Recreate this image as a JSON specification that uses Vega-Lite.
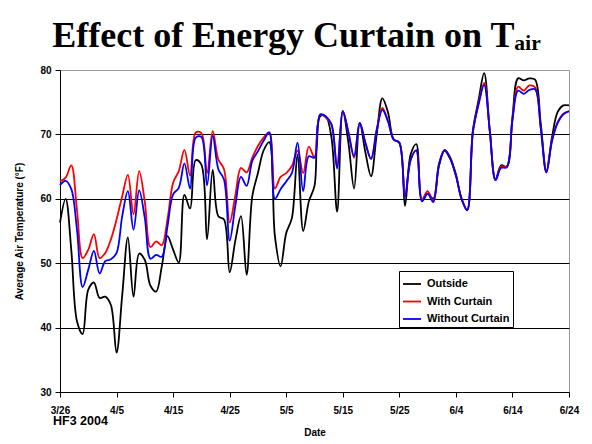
{
"$schema": "https://vega.github.io/schema/vega-lite/v6.json",
"padding": {"left": 13, "top": 17, "right": 5, "bottom": 0},
"background": "white",
"title": {"text": "Effect of Energy Curtain on Tₐᵢᵣ", "font": "Liberation Serif", "fontSize": 36, "fontWeight": "bold", "color": "black", "anchor": "middle", "offset": 10},
"vconcat": [{
"width": 509, "height": 322,
"title": {"text": "HF3 2004", "orient": "bottom", "anchor": "start", "frame": "group", "font": "Liberation Sans", "fontSize": 12.5, "fontWeight": "bold", "color": "black", "offset": -22, "dx": -7},
"data": {"values": [
{"date":"2004-03-26","series":"Outside","temp":56.3},
{"date":"2004-03-27","series":"Outside","temp":60.0},
{"date":"2004-03-28","series":"Outside","temp":52.0},
{"date":"2004-03-29","series":"Outside","temp":41.0},
{"date":"2004-03-30","series":"Outside","temp":39.0},
{"date":"2004-03-31","series":"Outside","temp":45.9},
{"date":"2004-04-01","series":"Outside","temp":47.0},
{"date":"2004-04-02","series":"Outside","temp":44.6},
{"date":"2004-04-03","series":"Outside","temp":44.8},
{"date":"2004-04-04","series":"Outside","temp":43.5},
{"date":"2004-04-05","series":"Outside","temp":36.1},
{"date":"2004-04-06","series":"Outside","temp":45.0},
{"date":"2004-04-07","series":"Outside","temp":54.0},
{"date":"2004-04-08","series":"Outside","temp":44.8},
{"date":"2004-04-09","series":"Outside","temp":51.5},
{"date":"2004-04-10","series":"Outside","temp":50.5},
{"date":"2004-04-11","series":"Outside","temp":46.5},
{"date":"2004-04-12","series":"Outside","temp":45.6},
{"date":"2004-04-13","series":"Outside","temp":49.5},
{"date":"2004-04-14","series":"Outside","temp":54.2},
{"date":"2004-04-15","series":"Outside","temp":52.1},
{"date":"2004-04-16","series":"Outside","temp":50.1},
{"date":"2004-04-17","series":"Outside","temp":60.6},
{"date":"2004-04-18","series":"Outside","temp":58.5},
{"date":"2004-04-19","series":"Outside","temp":66.0},
{"date":"2004-04-20","series":"Outside","temp":65.3},
{"date":"2004-04-21","series":"Outside","temp":53.7},
{"date":"2004-04-22","series":"Outside","temp":64.5},
{"date":"2004-04-23","series":"Outside","temp":57.3},
{"date":"2004-04-24","series":"Outside","temp":56.8},
{"date":"2004-04-25","series":"Outside","temp":48.6},
{"date":"2004-04-26","series":"Outside","temp":53.5},
{"date":"2004-04-27","series":"Outside","temp":57.3},
{"date":"2004-04-28","series":"Outside","temp":48.2},
{"date":"2004-04-29","series":"Outside","temp":60.4},
{"date":"2004-04-30","series":"Outside","temp":64.0},
{"date":"2004-05-01","series":"Outside","temp":67.5},
{"date":"2004-05-02","series":"Outside","temp":68.8},
{"date":"2004-05-03","series":"Outside","temp":54.2},
{"date":"2004-05-04","series":"Outside","temp":49.5},
{"date":"2004-05-05","series":"Outside","temp":54.7},
{"date":"2004-05-06","series":"Outside","temp":57.0},
{"date":"2004-05-07","series":"Outside","temp":66.9},
{"date":"2004-05-08","series":"Outside","temp":55.0},
{"date":"2004-05-09","series":"Outside","temp":59.6},
{"date":"2004-05-10","series":"Outside","temp":62.0},
{"date":"2004-05-11","series":"Outside","temp":72.8},
{"date":"2004-05-12","series":"Outside","temp":72.8},
{"date":"2004-05-13","series":"Outside","temp":69.5},
{"date":"2004-05-14","series":"Outside","temp":58.0},
{"date":"2004-05-15","series":"Outside","temp":73.6},
{"date":"2004-05-16","series":"Outside","temp":68.7},
{"date":"2004-05-17","series":"Outside","temp":61.6},
{"date":"2004-05-18","series":"Outside","temp":71.8},
{"date":"2004-05-19","series":"Outside","temp":67.2},
{"date":"2004-05-20","series":"Outside","temp":63.5},
{"date":"2004-05-21","series":"Outside","temp":70.0},
{"date":"2004-05-22","series":"Outside","temp":75.6},
{"date":"2004-05-23","series":"Outside","temp":73.4},
{"date":"2004-05-24","series":"Outside","temp":69.2},
{"date":"2004-05-25","series":"Outside","temp":68.7},
{"date":"2004-05-26","series":"Outside","temp":58.9},
{"date":"2004-05-27","series":"Outside","temp":66.9},
{"date":"2004-05-28","series":"Outside","temp":68.5},
{"date":"2004-05-29","series":"Outside","temp":59.7},
{"date":"2004-05-30","series":"Outside","temp":60.8},
{"date":"2004-05-31","series":"Outside","temp":60.0},
{"date":"2004-06-01","series":"Outside","temp":65.4},
{"date":"2004-06-02","series":"Outside","temp":67.6},
{"date":"2004-06-03","series":"Outside","temp":66.4},
{"date":"2004-06-04","series":"Outside","temp":63.8},
{"date":"2004-06-05","series":"Outside","temp":60.0},
{"date":"2004-06-06","series":"Outside","temp":58.3},
{"date":"2004-06-07","series":"Outside","temp":70.6},
{"date":"2004-06-08","series":"Outside","temp":75.3},
{"date":"2004-06-09","series":"Outside","temp":79.5},
{"date":"2004-06-10","series":"Outside","temp":70.5},
{"date":"2004-06-11","series":"Outside","temp":63.0},
{"date":"2004-06-12","series":"Outside","temp":65.2},
{"date":"2004-06-13","series":"Outside","temp":65.0},
{"date":"2004-06-14","series":"Outside","temp":72.7},
{"date":"2004-06-15","series":"Outside","temp":78.7},
{"date":"2004-06-16","series":"Outside","temp":78.4},
{"date":"2004-06-17","series":"Outside","temp":78.7},
{"date":"2004-06-18","series":"Outside","temp":78.5},
{"date":"2004-06-19","series":"Outside","temp":71.7},
{"date":"2004-06-20","series":"Outside","temp":64.3},
{"date":"2004-06-21","series":"Outside","temp":69.6},
{"date":"2004-06-22","series":"Outside","temp":73.5},
{"date":"2004-06-23","series":"Outside","temp":74.5},
{"date":"2004-06-24","series":"Outside","temp":74.5},
{"date":"2004-03-26","series":"With Curtain","temp":62.7},
{"date":"2004-03-27","series":"With Curtain","temp":63.3},
{"date":"2004-03-28","series":"With Curtain","temp":65.2},
{"date":"2004-03-29","series":"With Curtain","temp":58.3},
{"date":"2004-03-30","series":"With Curtain","temp":50.8},
{"date":"2004-03-31","series":"With Curtain","temp":52.1},
{"date":"2004-04-01","series":"With Curtain","temp":54.5},
{"date":"2004-04-02","series":"With Curtain","temp":50.8},
{"date":"2004-04-03","series":"With Curtain","temp":51.6},
{"date":"2004-04-04","series":"With Curtain","temp":53.7},
{"date":"2004-04-05","series":"With Curtain","temp":56.8},
{"date":"2004-04-06","series":"With Curtain","temp":60.4},
{"date":"2004-04-07","series":"With Curtain","temp":63.7},
{"date":"2004-04-08","series":"With Curtain","temp":57.6},
{"date":"2004-04-09","series":"With Curtain","temp":64.3},
{"date":"2004-04-10","series":"With Curtain","temp":59.5},
{"date":"2004-04-11","series":"With Curtain","temp":52.5},
{"date":"2004-04-12","series":"With Curtain","temp":53.4},
{"date":"2004-04-13","series":"With Curtain","temp":52.8},
{"date":"2004-04-14","series":"With Curtain","temp":56.8},
{"date":"2004-04-15","series":"With Curtain","temp":62.5},
{"date":"2004-04-16","series":"With Curtain","temp":64.3},
{"date":"2004-04-17","series":"With Curtain","temp":67.6},
{"date":"2004-04-18","series":"With Curtain","temp":63.6},
{"date":"2004-04-19","series":"With Curtain","temp":70.3},
{"date":"2004-04-20","series":"With Curtain","temp":70.2},
{"date":"2004-04-21","series":"With Curtain","temp":64.0},
{"date":"2004-04-22","series":"With Curtain","temp":70.5},
{"date":"2004-04-23","series":"With Curtain","temp":66.1},
{"date":"2004-04-24","series":"With Curtain","temp":64.6},
{"date":"2004-04-25","series":"With Curtain","temp":56.3},
{"date":"2004-04-26","series":"With Curtain","temp":60.5},
{"date":"2004-04-27","series":"With Curtain","temp":64.8},
{"date":"2004-04-28","series":"With Curtain","temp":64.1},
{"date":"2004-04-29","series":"With Curtain","temp":66.4},
{"date":"2004-04-30","series":"With Curtain","temp":68.2},
{"date":"2004-05-01","series":"With Curtain","temp":69.5},
{"date":"2004-05-02","series":"With Curtain","temp":70.3},
{"date":"2004-05-03","series":"With Curtain","temp":61.6},
{"date":"2004-05-04","series":"With Curtain","temp":63.4},
{"date":"2004-05-05","series":"With Curtain","temp":64.0},
{"date":"2004-05-06","series":"With Curtain","temp":65.1},
{"date":"2004-05-07","series":"With Curtain","temp":67.5},
{"date":"2004-05-08","series":"With Curtain","temp":64.0},
{"date":"2004-05-09","series":"With Curtain","temp":68.1},
{"date":"2004-05-10","series":"With Curtain","temp":66.4},
{"date":"2004-05-11","series":"With Curtain","temp":73.1},
{"date":"2004-05-12","series":"With Curtain","temp":72.6},
{"date":"2004-05-13","series":"With Curtain","temp":71.5},
{"date":"2004-05-14","series":"With Curtain","temp":65.0},
{"date":"2004-05-15","series":"With Curtain","temp":73.6},
{"date":"2004-05-16","series":"With Curtain","temp":70.3},
{"date":"2004-05-17","series":"With Curtain","temp":66.4},
{"date":"2004-05-18","series":"With Curtain","temp":71.8},
{"date":"2004-05-19","series":"With Curtain","temp":68.7},
{"date":"2004-05-20","series":"With Curtain","temp":66.2},
{"date":"2004-05-21","series":"With Curtain","temp":70.8},
{"date":"2004-05-22","series":"With Curtain","temp":74.1},
{"date":"2004-05-23","series":"With Curtain","temp":72.1},
{"date":"2004-05-24","series":"With Curtain","temp":69.2},
{"date":"2004-05-25","series":"With Curtain","temp":68.7},
{"date":"2004-05-26","series":"With Curtain","temp":60.4},
{"date":"2004-05-27","series":"With Curtain","temp":66.1},
{"date":"2004-05-28","series":"With Curtain","temp":67.5},
{"date":"2004-05-29","series":"With Curtain","temp":59.9},
{"date":"2004-05-30","series":"With Curtain","temp":61.2},
{"date":"2004-05-31","series":"With Curtain","temp":59.7},
{"date":"2004-06-01","series":"With Curtain","temp":65.1},
{"date":"2004-06-02","series":"With Curtain","temp":67.5},
{"date":"2004-06-03","series":"With Curtain","temp":66.2},
{"date":"2004-06-04","series":"With Curtain","temp":63.6},
{"date":"2004-06-05","series":"With Curtain","temp":60.0},
{"date":"2004-06-06","series":"With Curtain","temp":58.3},
{"date":"2004-06-07","series":"With Curtain","temp":70.3},
{"date":"2004-06-08","series":"With Curtain","temp":74.8},
{"date":"2004-06-09","series":"With Curtain","temp":78.0},
{"date":"2004-06-10","series":"With Curtain","temp":70.5},
{"date":"2004-06-11","series":"With Curtain","temp":62.9},
{"date":"2004-06-12","series":"With Curtain","temp":65.0},
{"date":"2004-06-13","series":"With Curtain","temp":65.0},
{"date":"2004-06-14","series":"With Curtain","temp":72.4},
{"date":"2004-06-15","series":"With Curtain","temp":77.4},
{"date":"2004-06-16","series":"With Curtain","temp":76.8},
{"date":"2004-06-17","series":"With Curtain","temp":77.6},
{"date":"2004-06-18","series":"With Curtain","temp":77.3},
{"date":"2004-06-19","series":"With Curtain","temp":71.1},
{"date":"2004-06-20","series":"With Curtain","temp":64.1},
{"date":"2004-06-21","series":"With Curtain","temp":69.1},
{"date":"2004-06-22","series":"With Curtain","temp":71.9},
{"date":"2004-06-23","series":"With Curtain","temp":73.2},
{"date":"2004-06-24","series":"With Curtain","temp":73.6},
{"date":"2004-03-26","series":"Without Curtain","temp":62.1},
{"date":"2004-03-27","series":"Without Curtain","temp":62.8},
{"date":"2004-03-28","series":"Without Curtain","temp":61.5},
{"date":"2004-03-29","series":"Without Curtain","temp":55.2},
{"date":"2004-03-30","series":"Without Curtain","temp":46.3},
{"date":"2004-03-31","series":"Without Curtain","temp":49.0},
{"date":"2004-04-01","series":"Without Curtain","temp":51.9},
{"date":"2004-04-02","series":"Without Curtain","temp":48.4},
{"date":"2004-04-03","series":"Without Curtain","temp":50.3},
{"date":"2004-04-04","series":"Without Curtain","temp":50.6},
{"date":"2004-04-05","series":"Without Curtain","temp":51.6},
{"date":"2004-04-06","series":"Without Curtain","temp":57.3},
{"date":"2004-04-07","series":"Without Curtain","temp":61.2},
{"date":"2004-04-08","series":"Without Curtain","temp":55.2},
{"date":"2004-04-09","series":"Without Curtain","temp":61.3},
{"date":"2004-04-10","series":"Without Curtain","temp":57.0},
{"date":"2004-04-11","series":"Without Curtain","temp":50.7},
{"date":"2004-04-12","series":"Without Curtain","temp":51.3},
{"date":"2004-04-13","series":"Without Curtain","temp":51.0},
{"date":"2004-04-14","series":"Without Curtain","temp":55.7},
{"date":"2004-04-15","series":"Without Curtain","temp":60.7},
{"date":"2004-04-16","series":"Without Curtain","temp":61.7},
{"date":"2004-04-17","series":"Without Curtain","temp":65.5},
{"date":"2004-04-18","series":"Without Curtain","temp":61.6},
{"date":"2004-04-19","series":"Without Curtain","temp":69.5},
{"date":"2004-04-20","series":"Without Curtain","temp":69.6},
{"date":"2004-04-21","series":"Without Curtain","temp":62.1},
{"date":"2004-04-22","series":"Without Curtain","temp":69.8},
{"date":"2004-04-23","series":"Without Curtain","temp":64.6},
{"date":"2004-04-24","series":"Without Curtain","temp":63.0},
{"date":"2004-04-25","series":"Without Curtain","temp":53.5},
{"date":"2004-04-26","series":"Without Curtain","temp":58.9},
{"date":"2004-04-27","series":"Without Curtain","temp":63.4},
{"date":"2004-04-28","series":"Without Curtain","temp":62.0},
{"date":"2004-04-29","series":"Without Curtain","temp":65.9},
{"date":"2004-04-30","series":"Without Curtain","temp":67.4},
{"date":"2004-05-01","series":"Without Curtain","temp":69.0},
{"date":"2004-05-02","series":"Without Curtain","temp":70.3},
{"date":"2004-05-03","series":"Without Curtain","temp":60.0},
{"date":"2004-05-04","series":"Without Curtain","temp":61.5},
{"date":"2004-05-05","series":"Without Curtain","temp":62.7},
{"date":"2004-05-06","series":"Without Curtain","temp":64.0},
{"date":"2004-05-07","series":"Without Curtain","temp":68.7},
{"date":"2004-05-08","series":"Without Curtain","temp":61.2},
{"date":"2004-05-09","series":"Without Curtain","temp":66.6},
{"date":"2004-05-10","series":"Without Curtain","temp":66.4},
{"date":"2004-05-11","series":"Without Curtain","temp":73.1},
{"date":"2004-05-12","series":"Without Curtain","temp":72.8},
{"date":"2004-05-13","series":"Without Curtain","temp":71.6},
{"date":"2004-05-14","series":"Without Curtain","temp":64.7},
{"date":"2004-05-15","series":"Without Curtain","temp":73.6},
{"date":"2004-05-16","series":"Without Curtain","temp":70.3},
{"date":"2004-05-17","series":"Without Curtain","temp":66.6},
{"date":"2004-05-18","series":"Without Curtain","temp":71.8},
{"date":"2004-05-19","series":"Without Curtain","temp":68.7},
{"date":"2004-05-20","series":"Without Curtain","temp":66.2},
{"date":"2004-05-21","series":"Without Curtain","temp":70.6},
{"date":"2004-05-22","series":"Without Curtain","temp":73.8},
{"date":"2004-05-23","series":"Without Curtain","temp":72.0},
{"date":"2004-05-24","series":"Without Curtain","temp":69.2},
{"date":"2004-05-25","series":"Without Curtain","temp":68.7},
{"date":"2004-05-26","series":"Without Curtain","temp":60.3},
{"date":"2004-05-27","series":"Without Curtain","temp":66.0},
{"date":"2004-05-28","series":"Without Curtain","temp":67.5},
{"date":"2004-05-29","series":"Without Curtain","temp":59.6},
{"date":"2004-05-30","series":"Without Curtain","temp":60.8},
{"date":"2004-05-31","series":"Without Curtain","temp":59.5},
{"date":"2004-06-01","series":"Without Curtain","temp":65.1},
{"date":"2004-06-02","series":"Without Curtain","temp":67.5},
{"date":"2004-06-03","series":"Without Curtain","temp":66.2},
{"date":"2004-06-04","series":"Without Curtain","temp":63.6},
{"date":"2004-06-05","series":"Without Curtain","temp":60.0},
{"date":"2004-06-06","series":"Without Curtain","temp":58.2},
{"date":"2004-06-07","series":"Without Curtain","temp":70.3},
{"date":"2004-06-08","series":"Without Curtain","temp":74.6},
{"date":"2004-06-09","series":"Without Curtain","temp":77.7},
{"date":"2004-06-10","series":"Without Curtain","temp":70.5},
{"date":"2004-06-11","series":"Without Curtain","temp":62.9},
{"date":"2004-06-12","series":"Without Curtain","temp":64.8},
{"date":"2004-06-13","series":"Without Curtain","temp":64.9},
{"date":"2004-06-14","series":"Without Curtain","temp":72.2},
{"date":"2004-06-15","series":"Without Curtain","temp":76.8},
{"date":"2004-06-16","series":"Without Curtain","temp":76.3},
{"date":"2004-06-17","series":"Without Curtain","temp":76.9},
{"date":"2004-06-18","series":"Without Curtain","temp":77.0},
{"date":"2004-06-19","series":"Without Curtain","temp":71.0},
{"date":"2004-06-20","series":"Without Curtain","temp":64.1},
{"date":"2004-06-21","series":"Without Curtain","temp":69.0},
{"date":"2004-06-22","series":"Without Curtain","temp":71.8},
{"date":"2004-06-23","series":"Without Curtain","temp":73.1},
{"date":"2004-06-24","series":"Without Curtain","temp":73.6}
]},
"mark": {"type": "line", "interpolate": "catmull-rom", "strokeWidth": 1.8},
"encoding": {
"x": {"field": "date", "type": "temporal",
  "scale": {"type": "utc", "domain": [{"year": 2004, "month": 3, "date": 26, "utc": true}, {"year": 2004, "month": 6, "date": 24, "utc": true}]},
  "axis": {"title": "Date", "labelExpr": "utcFormat(datum.value, '%-m/%-d')", "grid": false, "labelFlush": false, "labelOverlap": false, "labelPadding": 8, "titlePadding": 12,
    "values": [{"year": 2004, "month": 3, "date": 26, "utc": true}, {"year": 2004, "month": 4, "date": 5, "utc": true}, {"year": 2004, "month": 4, "date": 15, "utc": true}, {"year": 2004, "month": 4, "date": 25, "utc": true}, {"year": 2004, "month": 5, "date": 5, "utc": true}, {"year": 2004, "month": 5, "date": 15, "utc": true}, {"year": 2004, "month": 5, "date": 25, "utc": true}, {"year": 2004, "month": 6, "date": 4, "utc": true}, {"year": 2004, "month": 6, "date": 14, "utc": true}, {"year": 2004, "month": 6, "date": 24, "utc": true}]}},
"y": {"field": "temp", "type": "quantitative",
  "scale": {"domain": [30, 80], "nice": false, "zero": false},
  "axis": {"title": "Average Air Temperature (°F)", "values": [30, 40, 50, 60, 70, 80], "grid": true, "gridColor": {"condition": {"test": "datum.value === 80 || datum.value === 30", "value": "#9a9a9a"}, "value": "black"}, "gridWidth": 1, "minExtent": 30, "maxExtent": 30, "titlePadding": 6, "labelPadding": 4}},
"color": {"field": "series", "type": "nominal",
  "scale": {"domain": ["Outside", "With Curtain", "Without Curtain"], "range": ["#000000", "#ff0000", "#0000ff"]},
  "legend": {"title": null, "orient": "none", "legendX": 339, "legendY": 201, "strokeColor": "black", "fillColor": "white", "padding": 3, "labelFont": "Liberation Sans", "labelFontWeight": "bold", "labelFontSize": 11, "labelColor": "black", "labelOffset": 5, "symbolType": "stroke", "symbolStrokeWidth": 1.8, "symbolSize": 324, "rowPadding": 2.5, "cornerRadius": 0}}
}
}],
"config": {
"font": "Liberation Sans",
"view": {"stroke": "#9a9a9a", "strokeWidth": 1},
"axis": {"labelFont": "Liberation Sans", "labelFontWeight": "bold", "labelFontSize": 10, "labelColor": "black", "titleFont": "Liberation Sans", "titleFontWeight": "bold", "titleFontSize": 10, "titleColor": "black", "domainColor": "black", "tickColor": "black", "tickSize": 5, "domainWidth": 1, "tickWidth": 1}
}
}
